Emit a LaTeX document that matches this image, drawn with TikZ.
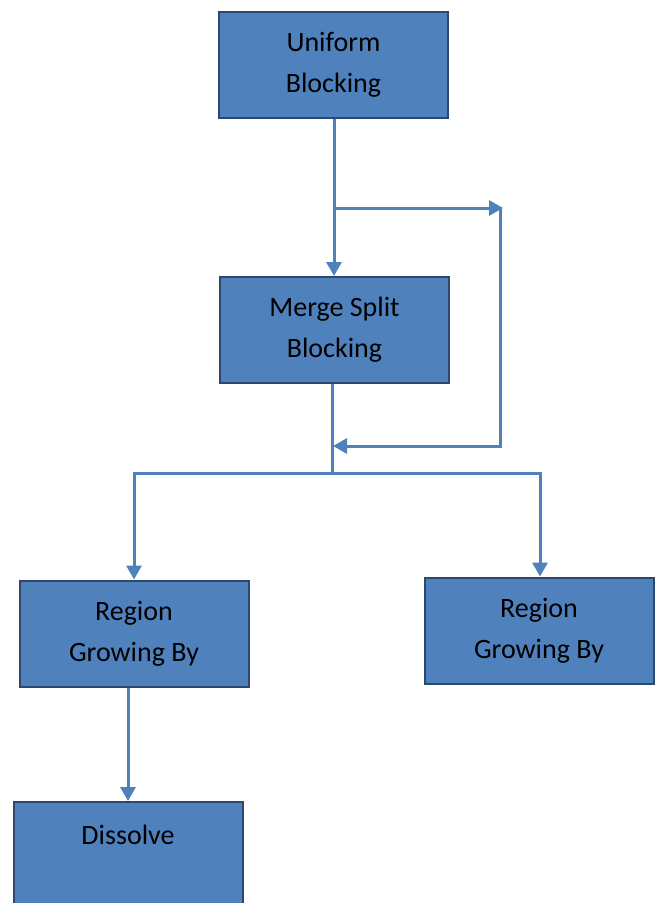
\documentclass[tikz,border=0pt]{standalone}
\usepackage{fontspec}
\setmainfont{Carlito}
\usetikzlibrary{arrows.meta}
\definecolor{boxfill}{RGB}{79,129,189}
\definecolor{boxedge}{RGB}{44,72,110}
\definecolor{linecol}{RGB}{79,129,189}
\tikzset{
  flowbox/.style={rectangle, draw=boxedge, fill=boxfill, line width=2pt,
    minimum width=229pt, minimum height=106pt, inner sep=0pt, align=center,
    font=\fontsize{28}{41}\selectfont, text=black},
  conn/.style={draw=linecol, line width=3pt},
  arr/.style={conn, -{Triangle[width=15pt,length=14pt]}}
}
\begin{document}
\begin{tikzpicture}[x=1pt,y=-1pt]
\useasboundingbox (0,0) rectangle (659,903);
\clip (0,0) rectangle (659,903);
\node[flowbox] (uni) at (333.5,65) {Uniform\\Blocking};
\node[flowbox] (msb) at (334.5,330) {Merge Split\\Blocking};
\node[flowbox] (rgl) at (134,633.5) {Region\\Growing By};
\node[flowbox] (rgr) at (539,630.5) {Region\\Growing By};
\node[flowbox] (dis) at (128,855) {Dissolve\\\mbox{}};
% top link and feedback loop
\coordinate (j1) at (334,208);
\coordinate (r1) at (503,208);
\coordinate (r2) at (500,206.5);
\coordinate (r3) at (500,446);
\coordinate (j2) at (333,446);
\draw[arr] (uni.south -| j1) -- (msb.north -| j1);
\draw[arr] (j1) -- (r1);
\draw[arr] (r2) -- (r3) -- (j2);
% split to two branches
\coordinate (s0) at (332,473);
\coordinate (sl) at (134,473);
\coordinate (sr) at (540,473);
\draw[conn] (msb.south -| s0) -- (s0);
\draw[conn] ([xshift=-1.5pt]sl) -- ([xshift=1.5pt]sr);
\draw[arr] (sl) -- (rgl.north -| sl);
\draw[arr] (sr) -- (rgr.north -| sr);
\coordinate (d0) at (128,687);
\draw[arr] (rgl.south -| d0) -- (dis.north -| d0);
\end{tikzpicture}
\end{document}
